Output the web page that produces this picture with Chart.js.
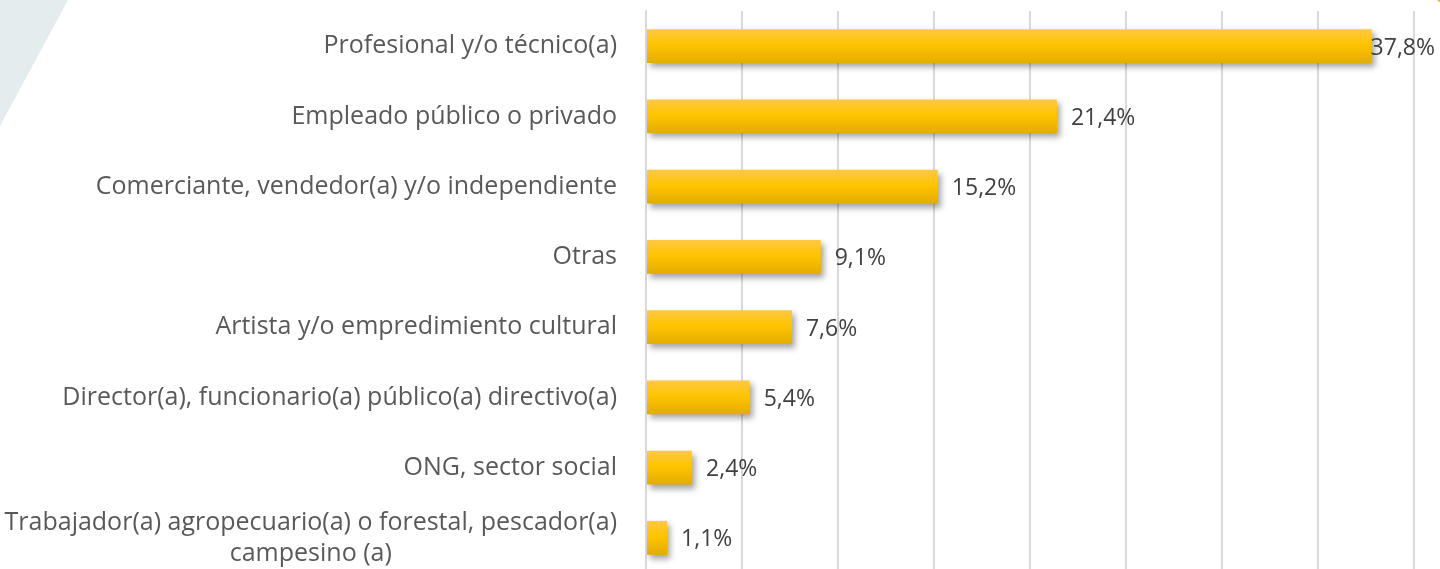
<!DOCTYPE html>
<html>
<head>
<meta charset="utf-8">
<script src="https://cdn.jsdelivr.net/npm/chart.js@4/dist/chart.umd.min.js"></script>
<style>
  html, body { margin: 0; padding: 0; background: #fff; overflow: hidden; }
  #wrap { width: 1440px; height: 576px; position: relative; }
</style>
</head>
<body>
<div id="wrap"><canvas id="chart"></canvas></div>
<script>
const categories = [
  'Profesional y/o técnico(a)',
  'Empleado público o privado',
  'Comerciante, vendedor(a) y/o independiente',
  'Otras',
  'Artista y/o empredimiento cultural',
  'Director(a), funcionario(a) público(a) directivo(a)',
  'ONG, sector social',
  ['Trabajador(a) agropecuario(a) o forestal, pescador(a)', 'campesino (a)'],
];
const values = [37.8, 21.4, 15.2, 9.1, 7.6, 5.4, 2.4, 1.1];

const FONT = '"Open Sans", sans-serif';
const GRID_COLOR = '#d9d9d9';
const LABEL_COLOR = '#595959';
const VALUE_COLOR = '#404040';

// corner decorations
const decorPlugin = {
  id: 'decor',
  beforeDraw(chart) {
    const ctx = chart.ctx;
    ctx.save();
    ctx.fillStyle = '#e4ecee';
    ctx.beginPath();
    ctx.moveTo(0, 0);
    ctx.lineTo(68, 0);
    ctx.lineTo(0, 126);
    ctx.closePath();
    ctx.fill();
    ctx.strokeStyle = '#f5b324';
    ctx.lineWidth = 4;
    ctx.beginPath();
    ctx.arc(1480, -45, 60, Math.PI * 0.6, Math.PI * 0.85);
    ctx.stroke();
    ctx.restore();
  },
};

// drop shadow under bars
const shadowPlugin = {
  id: 'barShadow',
  beforeDatasetDraw(chart) {
    const ctx = chart.ctx;
    ctx.save();
    ctx.shadowColor = 'rgba(0, 0, 0, 0.35)';
    ctx.shadowBlur = 6;
    ctx.shadowOffsetX = 3;
    ctx.shadowOffsetY = 4;
  },
  afterDatasetDraw(chart) {
    chart.ctx.restore();
  },
};

// category labels: right aligned, wrapped lines centred on each other
const categoryLabels = {
  id: 'categoryLabels',
  afterDraw(chart) {
    const ctx = chart.ctx;
    const yScale = chart.scales.y;
    const right = yScale.right - 29;
    const lineH = 31;
    ctx.save();
    ctx.font = `25px ${FONT}`;
    ctx.fillStyle = LABEL_COLOR;
    ctx.textBaseline = 'middle';
    categories.forEach((lab, i) => {
      const y = yScale.getPixelForValue(i);
      const lines = Array.isArray(lab) ? lab : [lab];
      const widest = Math.max(...lines.map(l => ctx.measureText(l).width));
      const cx = right - widest / 2;
      ctx.textAlign = 'center';
      lines.forEach((l, j) => {
        ctx.fillText(l, cx, y + (j - (lines.length - 1) / 2) * lineH);
      });
    });
    ctx.restore();
  },
};

// value labels right of each bar
const valueLabels = {
  id: 'valueLabels',
  afterDatasetsDraw(chart) {
    const ctx = chart.ctx;
    const meta = chart.getDatasetMeta(0);
    ctx.save();
    ctx.font = `23px ${FONT}`;
    ctx.fillStyle = VALUE_COLOR;
    ctx.textBaseline = 'middle';
    meta.data.forEach((bar, i) => {
      const txt = values[i].toFixed(1).replace('.', ',') + '%';
      const w = ctx.measureText(txt).width;
      const x = Math.min(bar.x + 14, chart.width - w - 5);
      ctx.fillText(txt, x, bar.y + 2);
    });
    ctx.restore();
  },
};

function barGradient(context) {
  const chart = context.chart;
  if (!chart.chartArea) return '#ffc000';
  const y = chart.scales.y.getPixelForValue(context.dataIndex);
  const g = chart.ctx.createLinearGradient(0, y - 17, 0, y + 17);
  g.addColorStop(0, '#ffc845');
  g.addColorStop(0.45, '#ffc400');
  g.addColorStop(1, '#e3ac00');
  return g;
}

new Chart(document.getElementById('chart'), {
  type: 'bar',
  data: {
    labels: categories,
    datasets: [{
      data: values,
      backgroundColor: barGradient,
      borderWidth: 0,
      barPercentage: 0.806,
      categoryPercentage: 0.6,
    }],
  },
  options: {
    indexAxis: 'y',
    responsive: true,
    maintainAspectRatio: false,
    animation: false,
    layout: { padding: { top: 11, right: 26, bottom: 3, left: 0 } },
    plugins: {
      legend: { display: false },
      tooltip: { enabled: false },
    },
    scales: {
      x: {
        min: 0,
        max: 40,
        ticks: { stepSize: 5, display: false },
        grid: { color: GRID_COLOR, lineWidth: 2, drawTicks: false },
        border: { display: false },
      },
      y: {
        ticks: { display: false },
        grid: { display: false, drawTicks: false },
        border: { color: GRID_COLOR, width: 2 },
        afterFit(scale) {
          scale.width = 646;
          scale.paddingTop = 0;
          scale.paddingBottom = 0;
        },
      },
    },
  },
  plugins: [decorPlugin, shadowPlugin, valueLabels, categoryLabels],
});
</script>
</body>
</html>
